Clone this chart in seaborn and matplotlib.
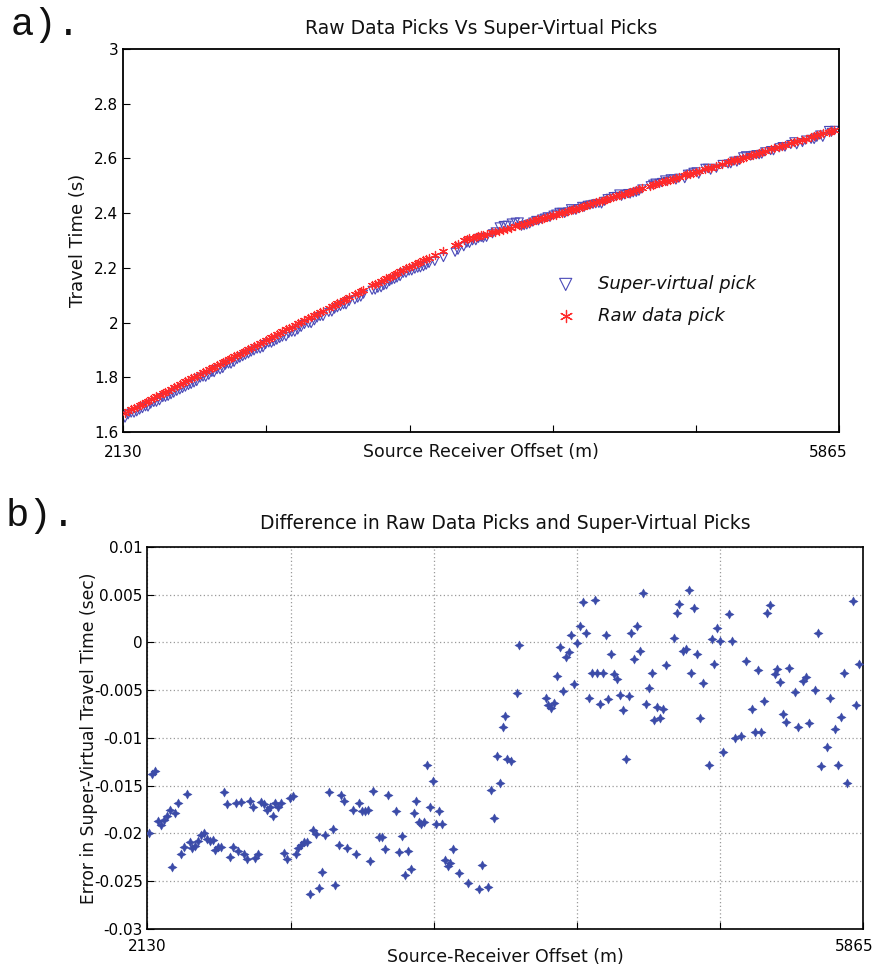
import numpy as np
import pandas as pd
import matplotlib
matplotlib.use("Agg")
import matplotlib.pyplot as plt
import matplotlib.transforms as mtrans
import seaborn as sns
from matplotlib.ticker import FixedLocator, FixedFormatter

# ---------------- data ----------------
offsets = [
    2139, 2155, 2171, 2186, 2200, 2215, 2230, 2246, 2259, 2273,
    2289, 2303, 2319, 2336, 2350, 2364, 2379, 2393, 2409, 2425,
    2439, 2454, 2470, 2484, 2499, 2513, 2531, 2546, 2560, 2576,
    2592, 2604, 2619, 2635, 2649, 2663, 2679, 2692, 2708, 2724,
    2738, 2753, 2767, 2783, 2797, 2812, 2828, 2844, 2859, 2872,
    2889, 2903, 2917, 2931, 2946, 2960, 2979, 2993, 3009, 3025,
    3040, 3058, 3075, 3096, 3110, 3127, 3141, 3157, 3172, 3202,
    3218, 3232, 3247, 3263, 3279, 3292, 3308, 3338, 3353, 3369,
    3383, 3428, 3444, 3458, 3475, 3489, 3503, 3519, 3531, 3545,
    3558, 3574, 3590, 3605, 3621, 3635, 3651, 3666, 3680, 3696,
    3710, 3725, 3755, 3800, 3861, 3876, 3906, 3922, 3936, 3952,
    3969, 3983, 3997, 4008, 4025, 4056, 4070, 4091, 4112, 4133,
    4154, 4175, 4196, 4207, 4221, 4235, 4250, 4266, 4282, 4296,
    4312, 4327, 4341, 4356, 4372, 4386, 4403, 4417, 4432, 4448,
    4463, 4477, 4491, 4505, 4521, 4534, 4550, 4564, 4580, 4595,
    4611, 4625, 4641, 4654, 4670, 4686, 4701, 4715, 4729, 4745,
    4761, 4774, 4790, 4806, 4820, 4835, 4879, 4892, 4904, 4925,
    4938, 4954, 4967, 4983, 4999, 5013, 5028, 5059, 5073, 5087,
    5102, 5118, 5132, 5164, 5178, 5194, 5224, 5254, 5285, 5299,
    5315, 5331, 5345, 5361, 5376, 5402, 5415, 5431, 5447, 5461,
    5476, 5507, 5522, 5551, 5567, 5582, 5612, 5628, 5643, 5673,
    5689, 5718, 5734, 5748, 5763, 5779, 5809, 5824, 5840,
]

# raw data first-break picks (s)
raw_pick = [
    1.671, 1.677, 1.683, 1.688, 1.693, 1.699, 1.704, 1.710, 1.715, 1.720,
    1.725, 1.731, 1.736, 1.742, 1.748, 1.752, 1.758, 1.763, 1.769, 1.774,
    1.780, 1.785, 1.791, 1.796, 1.801, 1.806, 1.813, 1.818, 1.823, 1.829,
    1.835, 1.839, 1.845, 1.850, 1.855, 1.861, 1.866, 1.871, 1.877, 1.882,
    1.887, 1.893, 1.898, 1.904, 1.909, 1.914, 1.920, 1.926, 1.931, 1.936,
    1.942, 1.947, 1.952, 1.957, 1.963, 1.968, 1.975, 1.980, 1.985, 1.991,
    1.997, 2.003, 2.009, 2.017, 2.022, 2.028, 2.033, 2.039, 2.044, 2.055,
    2.061, 2.066, 2.072, 2.077, 2.083, 2.088, 2.093, 2.104, 2.110, 2.115,
    2.120, 2.136, 2.141, 2.146, 2.152, 2.157, 2.162, 2.168, 2.172, 2.177,
    2.182, 2.187, 2.193, 2.198, 2.203, 2.208, 2.213, 2.218, 2.223, 2.228,
    2.233, 2.238, 2.248, 2.263, 2.283, 2.288, 2.303, 2.306, 2.308, 2.311,
    2.314, 2.317, 2.319, 2.321, 2.324, 2.330, 2.332, 2.336, 2.339, 2.343,
    2.347, 2.352, 2.356, 2.358, 2.361, 2.364, 2.367, 2.371, 2.374, 2.377,
    2.380, 2.383, 2.386, 2.389, 2.393, 2.395, 2.399, 2.402, 2.405, 2.408,
    2.412, 2.414, 2.417, 2.420, 2.424, 2.427, 2.430, 2.433, 2.436, 2.440,
    2.443, 2.446, 2.449, 2.452, 2.456, 2.459, 2.462, 2.465, 2.468, 2.472,
    2.475, 2.478, 2.481, 2.484, 2.487, 2.491, 2.500, 2.503, 2.506, 2.510,
    2.513, 2.516, 2.519, 2.522, 2.526, 2.529, 2.532, 2.539, 2.542, 2.545,
    2.548, 2.551, 2.554, 2.561, 2.564, 2.567, 2.574, 2.580, 2.587, 2.590,
    2.593, 2.596, 2.599, 2.603, 2.606, 2.612, 2.614, 2.618, 2.621, 2.624,
    2.627, 2.634, 2.637, 2.643, 2.647, 2.650, 2.656, 2.660, 2.663, 2.669,
    2.673, 2.679, 2.682, 2.685, 2.689, 2.692, 2.698, 2.702, 2.705,
]

# super-virtual minus raw pick (s)
pick_error = [
    -0.0199, -0.0138, -0.0135, -0.0187, -0.0191, -0.0186, -0.0182, -0.0175, -0.0235, -0.0179,
    -0.0168, -0.0221, -0.0214, -0.0159, -0.0209, -0.0215, -0.0213, -0.0208, -0.0202, -0.0200,
    -0.0206, -0.0208, -0.0207, -0.0217, -0.0214, -0.0214, -0.0157, -0.0169, -0.0225, -0.0214,
    -0.0168, -0.0218, -0.0167, -0.0222, -0.0227, -0.0166, -0.0172, -0.0226, -0.0222, -0.0167,
    -0.0169, -0.0175, -0.0172, -0.0182, -0.0168, -0.0172, -0.0168, -0.0220, -0.0227, -0.0163,
    -0.0161, -0.0221, -0.0215, -0.0212, -0.0209, -0.0209, -0.0263, -0.0196, -0.0201, -0.0257,
    -0.0240, -0.0202, -0.0157, -0.0195, -0.0254, -0.0212, -0.0160, -0.0166, -0.0215, -0.0175,
    -0.0221, -0.0168, -0.0177, -0.0177, -0.0175, -0.0229, -0.0156, -0.0204, -0.0204, -0.0216,
    -0.0160, -0.0177, -0.0219, -0.0203, -0.0244, -0.0218, -0.0237, -0.0179, -0.0166, -0.0188,
    -0.0190, -0.0188, -0.0128, -0.0172, -0.0145, -0.0190, -0.0176, -0.0190, -0.0228, -0.0234,
    -0.0231, -0.0216, -0.0241, -0.0252, -0.0258, -0.0233, -0.0256, -0.0155, -0.0184, -0.0119,
    -0.0147, -0.0089, -0.0077, -0.0122, -0.0124, -0.0053, -0.0003, 0.0140, 0.0160, 0.0130,
    0.0170, 0.0150, 0.0120, -0.0058, -0.0065, -0.0069, -0.0063, -0.0035, -0.0005, -0.0051,
    -0.0015, -0.0010, 0.0008, -0.0044, -0.0001, 0.0017, 0.0042, 0.0010, -0.0058, -0.0032,
    0.0044, -0.0032, -0.0064, -0.0032, 0.0008, -0.0059, -0.0012, -0.0033, -0.0038, -0.0055,
    -0.0071, -0.0122, -0.0056, 0.0010, -0.0017, 0.0017, -0.0009, 0.0052, -0.0064, -0.0048,
    -0.0032, -0.0081, -0.0068, -0.0079, -0.0070, -0.0024, 0.0005, 0.0031, 0.0040, -0.0009,
    -0.0007, 0.0055, -0.0032, 0.0036, -0.0012, -0.0079, -0.0042, -0.0128, 0.0004, -0.0023,
    0.0015, 0.0002, -0.0115, 0.0030, 0.0002, -0.0100, -0.0098, -0.0019, -0.0070, -0.0094,
    -0.0029, -0.0094, -0.0061, 0.0031, 0.0039, -0.0033, -0.0028, -0.0041, -0.0075, -0.0083,
    -0.0027, -0.0052, -0.0089, -0.0040, -0.0036, -0.0084, -0.0050, 0.0010, -0.0129, -0.0109,
    -0.0058, -0.0091, -0.0128, -0.0078, -0.0032, -0.0147, 0.0043, -0.0065, -0.0023,
]

x_range = [2130, 5865]
top_yticks = [1.6, 1.8, 2.0, 2.2, 2.4, 2.6, 2.8, 3.0]
top_yticklabels = ["1.6", "1.8", "2", "2.2", "2.4", "2.6", "2.8", "3"]
bot_yticks = [-0.03, -0.025, -0.02, -0.015, -0.01, -0.005, 0.0, 0.005, 0.01]
bot_yticklabels = ["-0.03", "-0.025", "-0.02", "-0.015", "-0.01", "-0.005", "0", "0.005", "0.01"]
xticklabels = ["2130", "", "", "", "", "5865"]

df = pd.DataFrame({"offset": offsets, "raw": raw_pick, "err": pick_error})
df["svp"] = df["raw"] + df["err"]

# ---------------- figure ----------------
sns.set_style("white")
plt.rcParams["font.family"] = ["DejaVu Sans"]
plt.rcParams["text.color"] = "#111111"
plt.rcParams["axes.labelcolor"] = "#111111"

fig = plt.figure(figsize=(8.8, 9.71), dpi=100)
ax1 = fig.add_axes([0.1401, 0.555, 0.8136, 0.3945])
ax2 = fig.add_axes([0.1676, 0.0433, 0.8136, 0.3934])

xticks = np.linspace(x_range[0], x_range[1], 6)

# --- panel a ---
sns.scatterplot(data=df, x="offset", y="svp", ax=ax1, marker="v", s=34,
                facecolor="none", edgecolor="#4a4ab8", linewidth=0.8,
                label="Super-virtual pick", zorder=2)
sns.scatterplot(data=df, x="offset", y="raw", ax=ax1, marker=(6, 2, 0), s=34,
                color="#ff2a2a", linewidth=0.9, label="Raw data pick", zorder=3)
ax1.set_xlim(*x_range)
ax1.set_ylim(1.6, 3.0)
ax1.xaxis.set_major_locator(FixedLocator(xticks))
ax1.xaxis.set_major_formatter(FixedFormatter(xticklabels))
ax1.yaxis.set_major_locator(FixedLocator(top_yticks))
ax1.yaxis.set_major_formatter(FixedFormatter(top_yticklabels))
ax1.tick_params(direction="in", length=5, width=0.8, labelsize=11, colors="black",
                bottom=True, left=True)
ax1.tick_params(axis="x", pad=9)
ax1.set_title("Raw Data Picks Vs Super-Virtual Picks", fontsize=13.5, pad=11)
ax1.set_xlabel("Source Receiver Offset (m)", fontsize=12.5)
ax1.xaxis.set_label_coords(0.5, -0.028)
ax1.set_ylabel("Travel Time (s)", fontsize=13, labelpad=5)
for sp in ax1.spines.values():
    sp.set_color("black")
    sp.set_linewidth(1.3)
leg = ax1.legend(loc="center left", bbox_to_anchor=(0.57, 0.345), frameon=False,
                 prop={"style": "italic", "size": 13}, markerscale=1.5,
                 labelspacing=0.75, handletextpad=0.8)

# --- panel b ---
sns.scatterplot(data=df, x="offset", y="err", ax=ax2, marker=(4, 1, 0), s=44,
                color="#3b4ba8", edgecolor="#3b4ba8", linewidth=0.3, zorder=3)
ax2.set_xlim(*x_range)
ax2.set_ylim(-0.03, 0.01)
ax2.xaxis.set_major_locator(FixedLocator(xticks))
ax2.xaxis.set_major_formatter(FixedFormatter(xticklabels))
ax2.yaxis.set_major_locator(FixedLocator(bot_yticks))
ax2.yaxis.set_major_formatter(FixedFormatter(bot_yticklabels))
ax2.grid(True, linestyle=(0, (1, 2)), color="#9a9a9a", linewidth=0.9)
ax2.set_axisbelow(True)
ax2.tick_params(direction="in", length=5, width=0.8, labelsize=11, colors="black",
                bottom=True, left=True)
ax2.tick_params(axis="x", pad=7)
ax2.set_title("Difference in Raw Data Picks and Super-Virtual Picks", fontsize=13.5, pad=13)
ax2.set_xlabel("Source-Receiver Offset (m)", fontsize=12.5)
ax2.xaxis.set_label_coords(0.5, -0.05)
ax2.set_ylabel("Error in Super-Virtual Travel Time (sec)", fontsize=12.3, labelpad=-3)
for sp in ax2.spines.values():
    sp.set_color("black")
    sp.set_linewidth(1.2)

# nudge the right-end tick labels left, as in the reference
fig.canvas.draw()
for ax, dx in ((ax1, -8), (ax2, -7)):
    lab = ax.get_xticklabels()[-1]
    lab.set_transform(lab.get_transform() +
                      mtrans.ScaledTranslation(dx / 72, 0, fig.dpi_scale_trans))

fig.text(0.012, 0.974, "a).", fontsize=28, family=["Liberation Mono", "DejaVu Sans Mono"],
         va="center", ha="left")
fig.text(0.006, 0.469, "b).", fontsize=28, family=["Liberation Mono", "DejaVu Sans Mono"],
         va="center", ha="left")

fig.savefig("out.png", dpi=100)
